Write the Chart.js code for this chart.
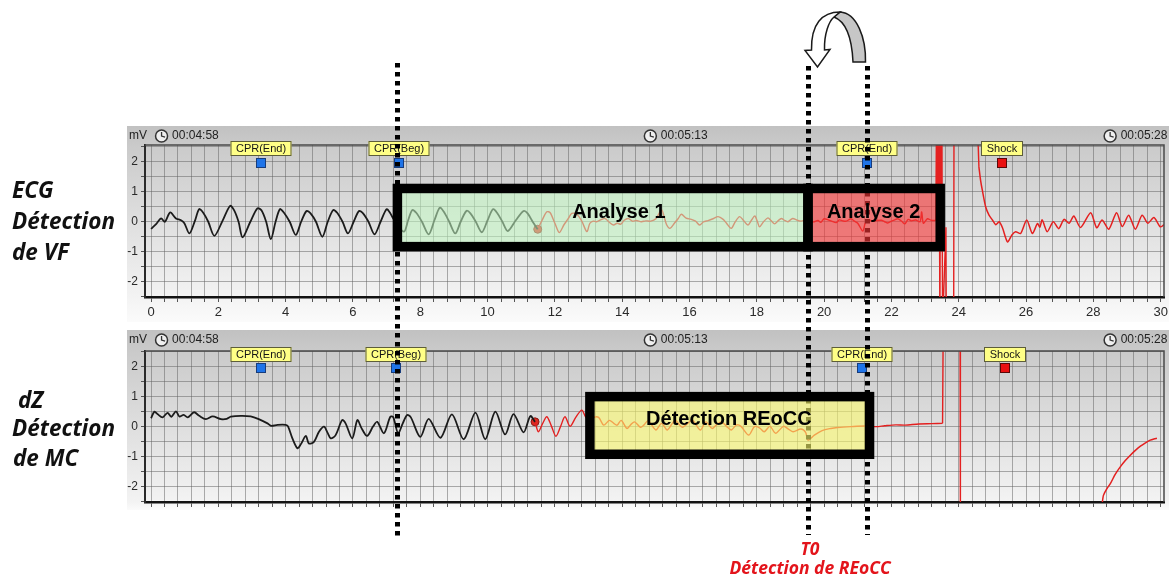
<!DOCTYPE html>
<html lang="fr">
<head>
<meta charset="utf-8">
<title>ECG / dZ – Détection REoCC</title>
<script src="https://cdn.jsdelivr.net/npm/chart.js@4.4.1/dist/chart.umd.min.js"></script>
<style>
  html, body { margin:0; padding:0; background:#fff; }
  body { width:1169px; height:577px; position:relative; overflow:hidden; }
  canvas { position:absolute; display:block; }
  #ecg { left:127px; top:126px; }
  #dz  { left:127px; top:330px; }
  #ov  { left:0; top:0; pointer-events:none; }
</style>
</head>
<body>
<canvas id="ecg" width="1042" height="196"></canvas>
<canvas id="dz" width="1042" height="180"></canvas>
<canvas id="ov" width="1169" height="577"></canvas>
<script>
// ---------------- DATA (time in s, value in mV) ----------------
const ecgBlack = [[0,-0.24],[0.15,-0.08],[0.3,0.11],[0.41,0.0],[0.57,0.31],[0.74,0.11],[0.89,0.05],[0.99,-0.05],[1.14,-0.39],[1.3,0.02],[1.43,0.42],[1.55,0.3],[1.7,0.0],[1.88,-0.47],[2.12,0.02],[2.35,0.53],[2.47,0.38],[2.6,0.0],[2.72,-0.52],[2.95,0.0],[3.16,0.45],[3.28,0.38],[3.42,0.0],[3.56,-0.58],[3.7,0.0],[3.83,0.42],[3.95,0.3],[4.12,0.0],[4.3,-0.44],[4.46,0.0],[4.62,0.36],[4.74,0.28],[4.9,0.0],[5.09,-0.5],[5.25,0.0],[5.41,0.39],[5.53,0.3],[5.69,0.0],[5.85,-0.39],[6.02,0.0],[6.18,0.36],[6.3,0.28],[6.46,0.0],[6.64,-0.42],[6.82,0.0],[7.0,0.42],[7.1,0.3],[7.2,0.1],[7.51,-0.33],[7.64,0.05],[7.76,0.39],[7.88,0.3],[8.05,0.0],[8.25,-0.42],[8.42,0.05],[8.58,0.47],[8.7,0.33],[8.86,0.0],[9.04,-0.39],[9.2,0.0],[9.37,0.36],[9.49,0.28],[9.65,0.0],[9.83,-0.35],[10.0,0.05],[10.16,0.42],[10.28,0.3],[10.44,0.0],[10.6,-0.31],[10.84,0.05],[11.07,0.36],[11.19,0.28],[11.34,0.0],[11.49,-0.25]];
const ecgRed = [[11.49,-0.25],[11.62,0.05],[11.76,0.33],[11.86,0.3],[12.0,-0.05],[12.13,-0.36],[12.27,-0.1],[12.4,0.11],[12.5,0.28],[12.65,0.25],[12.8,0.02],[12.95,-0.33],[13.04,-0.05],[13.14,0.02],[13.24,0.0],[13.36,0.06],[13.49,0.11],[13.6,0.0],[13.74,-0.11],[13.85,-0.05],[13.96,-0.08],[14.06,0.05],[14.18,0.11],[14.3,0.02],[14.42,0.04],[14.57,0.0],[14.7,0.03],[14.85,0.02],[15.0,0.1],[15.17,0.39],[15.25,0.15],[15.32,-0.1],[15.42,-0.22],[15.55,-0.05],[15.66,0.1],[15.76,0.25],[15.9,0.12],[16.05,0.08],[16.18,0.02],[16.3,-0.11],[16.42,0.0],[16.55,0.04],[16.7,0.1],[16.85,0.17],[17.0,0.08],[17.1,-0.05],[17.24,-0.22],[17.36,0.0],[17.49,0.17],[17.6,0.05],[17.74,-0.11],[17.84,0.05],[17.94,0.19],[18.02,0.0],[18.08,-0.17],[18.2,0.0],[18.33,0.13],[18.43,0.03],[18.53,-0.07],[18.63,0.03],[18.73,0.11],[18.82,0.05],[18.92,0.0],[19.0,0.06],[19.07,0.11],[19.2,0.05],[19.32,0.02],[19.45,0.05],[19.6,-0.02],[19.71,0.0],[19.82,0.04],[19.9,-0.02],[20.0,0.1],[20.12,0.06],[20.22,0.02],[20.36,-0.03],[20.45,0.06],[20.55,0.03],[20.66,0.02],[20.8,0.1],[20.9,0.02],[21.0,-0.05],[21.15,-0.31],[21.22,-0.05],[21.3,0.06],[21.45,0.02],[21.55,0.04],[21.7,0.05],[21.8,0.0],[21.89,-0.04],[22.0,0.02],[22.1,0.06],[22.19,0.1],[22.32,0.0],[22.4,-0.07],[22.5,0.08],[22.6,0.03],[22.72,0.06],[22.85,0.0],[22.9,0.33],[22.95,-0.05],[23.07,0.1],[23.18,0.05],[23.27,0.04],[23.32,0.05]];
const ecgShock = [[23.32,0.05],[23.34,3.5],[23.36,-0.3],[23.38,3.5],[23.4,-0.5],[23.42,3.5],[23.44,-3.5],[23.46,3.5],[23.48,-0.4],[23.5,3.5],[23.52,-3.5],[23.62,-0.2],[23.63,-3.5],[23.85,-3.5],[23.86,3.5],[24.55,3.5],[24.6,1.83]];
const ecgPost = [[24.6,1.83],[24.65,1.38],[24.7,1.06],[24.8,0.5],[24.9,0.22],[25.0,0.06],[25.1,-0.1],[25.2,0.0],[25.3,-0.2],[25.45,-0.67],[25.58,-0.44],[25.69,-0.33],[25.84,-0.39],[26.02,0.06],[26.19,-0.39],[26.34,-0.06],[26.41,-0.18],[26.48,0.06],[26.63,-0.33],[26.81,0.0],[26.97,-0.23],[27.13,0.08],[27.28,-0.05],[27.42,0.19],[27.62,-0.19],[27.92,0.3],[28.1,-0.2],[28.26,0.06],[28.46,-0.25],[28.69,0.3],[28.86,-0.16],[29.05,0.22],[29.25,-0.25],[29.45,0.22],[29.62,-0.05],[29.8,0.14],[29.99,-0.17],[30.1,-0.1]];
const ecgDot = [[11.49,-0.25]];

const dzBlack = [[0,0.27],[0.1,0.49],[0.2,0.4],[0.34,0.3],[0.49,0.45],[0.6,0.32],[0.74,0.5],[0.84,0.33],[0.97,0.38],[1.09,0.3],[1.28,0.47],[1.43,0.35],[1.63,0.24],[1.83,0.33],[2.08,0.24],[2.25,0.25],[2.37,0.32],[2.67,0.35],[2.96,0.33],[3.2,0.24],[3.46,0.1],[3.56,0.02],[3.76,0.05],[4.0,0.05],[4.07,0.0],[4.2,-0.4],[4.35,-0.73],[4.45,-0.6],[4.6,-0.32],[4.69,-0.57],[4.84,-0.52],[4.99,-0.18],[5.14,-0.01],[5.24,-0.2],[5.34,-0.4],[5.48,-0.3],[5.68,0.21],[5.78,0.1],[5.98,-0.4],[6.13,0.21],[6.25,-0.05],[6.42,-0.32],[6.6,0.0],[6.72,0.15],[6.92,-0.23],[7.11,0.32],[7.2,0.3],[7.34,-0.23],[7.48,0.1],[7.61,0.38],[7.72,0.3],[8.0,-0.35],[8.25,0.25],[8.6,-0.38],[8.94,0.4],[9.29,-0.43],[9.64,0.46],[9.93,-0.43],[10.23,0.49],[10.52,-0.27],[10.77,0.41],[11.07,-0.2],[11.27,0.34],[11.41,0.15]];
const dzRed = [[11.41,0.15],[11.51,-0.18],[11.63,0.08],[11.76,0.32],[11.9,0.0],[12.03,-0.33],[12.17,0.0],[12.3,0.32],[12.45,0.0],[12.62,0.3],[12.8,0.54],[12.92,0.3],[13.05,0.2],[13.15,0.3],[13.3,0.3],[13.45,0.04],[13.62,0.2],[13.75,0.1],[13.85,0.04],[13.97,0.2],[14.14,-0.07],[14.25,0.05],[14.37,0.15],[14.54,-0.03],[14.65,0.05],[14.77,0.19],[15.0,-0.12],[15.17,0.1],[15.34,-0.12],[15.57,0.21],[15.7,0.05],[15.8,-0.03],[15.95,0.1],[16.09,0.21],[16.32,-0.12],[16.49,0.15],[16.67,-0.07],[16.8,0.05],[16.95,0.15],[17.1,0.0],[17.24,-0.12],[17.4,0.05],[17.53,0.0],[17.76,-0.29],[17.93,-0.01],[18.08,-0.05],[18.22,-0.18],[18.39,0.0],[18.56,-0.23],[18.79,0.0],[18.95,-0.1],[19.08,-0.18],[19.31,-0.09],[19.45,-0.2],[19.52,-0.46],[19.71,-0.29],[19.94,-0.14],[20.2,-0.07],[20.4,-0.04],[20.8,-0.01],[21.2,0.01],[21.55,-0.01],[21.8,0.02],[22.13,0.05],[22.4,0.04],[22.82,0.08],[23.2,0.09],[23.52,0.1]];
const dzArtefact = [[23.52,0.1],[23.54,3.5],[24.04,3.5],[24.05,-3.5],[28.25,-3.5],[28.26,-2.6]];
const dzRecovery = [[28.26,-2.6],[28.3,-2.3],[28.4,-2.08],[28.51,-1.9],[28.65,-1.6],[28.8,-1.35],[28.95,-1.14],[29.1,-0.96],[29.25,-0.8],[29.4,-0.66],[29.55,-0.55],[29.69,-0.46],[29.8,-0.42],[29.89,-0.4]];
const dzDot = [[11.41,0.15]];

// event markers
const markLabels = ['CPR(End)', 'CPR(Beg)', 'CPR(End)', 'Shock'];
const markIsShock = [false, false, false, true];
const ecgMarkT = [3.27, 7.36, 21.27, 25.3];
const dzMarkT = [3.26, 7.27, 21.12, 25.39];

// header timestamps
const stampSec = [0, 15, 30];
const stampText = ['00:04:58', '00:05:13', '00:05:28'];

// analysis windows (panel 0 = ECG, 1 = dZ)
const boxLabels = ['Analyse 1', 'Analyse 2', 'Détection REoCC'];
const boxPanel = [0, 0, 1];
const boxStart = [7.32, 19.52, 13.04];
const boxEnd = [19.52, 23.45, 21.35];
const boxTop = [1.11, 1.11, 0.99];
const boxBottom = [-0.83, -0.83, -0.93];
const boxTextT = [13.9, 21.47, 17.17];
const boxTextV = [0.32, 0.32, 0.24];

// vertical guide lines (CPR begin, T0, CPR end)
const guideT = [7.32, 19.52, 21.27];

// axis ranges
const xMin = -0.18, xMax = 30.1;
const ecgYMin = -2.51, ecgYMax = 2.56;
const dzYMin = -2.52, dzYMax = 2.51;

// ---------------- STYLE / LAYOUT ----------------
Chart.defaults.font.family = '"Liberation Sans", Arial, sans-serif';
const RED = '#e42020', BLACK = '#1b1b1b';
const GRID = 'rgba(95,95,95,0.5)';
const boxFill = ['rgba(195,250,195,0.55)', 'rgba(245,55,55,0.62)', 'rgba(252,250,110,0.6)'];

const bgPlugin = {
  id: 'panelBg',
  beforeDraw(chart) {
    const { ctx, width, height, chartArea: a } = chart;
    const g = ctx.createLinearGradient(0, 0, 0, height);
    g.addColorStop(0, '#c1c1c1');
    g.addColorStop(a.top / height, '#cacaca');
    g.addColorStop(a.bottom / height, '#f3f3f3');
    g.addColorStop(1, '#fbfbfb');
    ctx.save(); ctx.fillStyle = g; ctx.fillRect(0, 0, width, height); ctx.restore();
  }
};

function drawClock(ctx, cx, cy) {
  ctx.save();
  ctx.beginPath(); ctx.arc(cx, cy, 6, 0, Math.PI * 2);
  ctx.fillStyle = '#efefef'; ctx.fill();
  ctx.lineWidth = 1.5; ctx.strokeStyle = '#333'; ctx.stroke();
  ctx.beginPath(); ctx.moveTo(cx, cy - 4); ctx.lineTo(cx, cy); ctx.lineTo(cx + 3.5, cy + 1.2);
  ctx.lineWidth = 1.3; ctx.stroke();
  ctx.restore();
}

const decoPlugin = {
  id: 'panelDeco',
  afterDraw(chart, args, opts) {
    const { ctx, chartArea: a, scales: { x } } = chart;
    ctx.save();
    // frame top / right
    ctx.strokeStyle = '#4a4a4a'; ctx.lineWidth = 1.5;
    ctx.beginPath(); ctx.moveTo(a.left, a.top); ctx.lineTo(a.right, a.top); ctx.lineTo(a.right, a.bottom); ctx.stroke();
    // header
    const hy = a.top - opts.hdrOff;
    ctx.font = '12px "Liberation Sans", Arial'; ctx.fillStyle = '#222'; ctx.textBaseline = 'middle';
    ctx.textAlign = 'right'; ctx.fillText('mV', a.left + 2, hy);
    ctx.textAlign = 'left';
    const textLeft = [x.getPixelForValue(stampSec[0]) + 21, x.getPixelForValue(stampSec[1]) + 5, x.getPixelForValue(stampSec[2]) - 40];
    stampText.forEach((s, i) => { drawClock(ctx, textLeft[i] - 10.5, hy); ctx.fillStyle = '#222'; ctx.fillText(s, textLeft[i], hy); });
    // event markers
    ctx.font = '11px "Liberation Sans", Arial';
    opts.times.forEach((t, i) => {
      const cx = Math.round(x.getPixelForValue(t));
      const lbl = markLabels[i];
      const w = Math.round(ctx.measureText(lbl).width + 11), h = 15, top = a.top - 4;
      ctx.fillStyle = '#ffff86'; ctx.fillRect(cx - w / 2, top, w, h);
      ctx.strokeStyle = '#5d5d3a'; ctx.lineWidth = 1; ctx.strokeRect(cx - w / 2 + 0.5, top + 0.5, w - 1, h - 1);
      ctx.fillStyle = '#151515'; ctx.textAlign = 'center'; ctx.fillText(lbl, cx, top + h / 2 + 0.5);
      const sy = a.top + opts.sqOff;
      ctx.fillStyle = markIsShock[i] ? '#ea1111' : '#1f74e8';
      ctx.fillRect(cx - 4, sy - 4, 8, 8);
      ctx.strokeStyle = markIsShock[i] ? '#5a0808' : '#173c7c'; ctx.lineWidth = 1;
      ctx.strokeRect(cx - 4.5, sy - 4.5, 9, 9);
    });
    ctx.restore();
  }
};

function lineDs(data, color, width, tension) {
  return { data, borderColor: color, borderWidth: width, tension, pointRadius: 0, fill: false, borderJoinStyle: 'round' };
}
function dotDs(data) {
  return { data, showLine: false, pointRadius: 4, pointBackgroundColor: '#dd2a22', pointBorderColor: '#8a1a14', pointBorderWidth: 1 };
}
const isInt = v => Math.abs(v - Math.round(v)) < 1e-6;
const isEven = v => Math.abs(v / 2 - Math.round(v / 2)) < 1e-6;

function panel(id, datasets, cfg) {
  return new Chart(document.getElementById(id), {
    type: 'line',
    data: { datasets },
    options: {
      responsive: false, animation: false, devicePixelRatio: 1, events: [],
      layout: { padding: { top: cfg.padTop, right: 2, left: 0, bottom: 0 } },
      plugins: { legend: { display: false }, tooltip: { enabled: false },
        panelDeco: { times: cfg.marks, hdrOff: cfg.hdrOff, sqOff: cfg.sqOff } },
      scales: {
        x: {
          type: 'linear', min: xMin, max: xMax,
          afterFit: s => { s.height = cfg.xH; s.paddingLeft = 0; s.paddingRight = 0; },
          ticks: { stepSize: 0.4, includeBounds: false, autoSkip: false, maxRotation: 0, minRotation: 0, padding: 3,
                   color: '#2a2a2a', font: { size: 13 },
                   callback: v => (cfg.xLabels && isEven(v)) ? String(Math.round(v)) : '' },
          grid: { color: GRID, lineWidth: 1, tickLength: 5, tickColor: '#555' },
          border: { color: '#111', width: 2.5 }
        },
        y: {
          min: cfg.yMin, max: cfg.yMax,
          afterFit: s => { s.width = 18; s.paddingTop = 0; s.paddingBottom = 0; },
          ticks: { stepSize: 0.5, includeBounds: false, autoSkip: false, padding: 3, color: '#2a2a2a', font: { size: 12 },
                   callback: v => isInt(v) ? String(Math.round(v)) : '' },
          grid: { color: GRID, lineWidth: 1, tickLength: 4, tickColor: '#555' },
          border: { color: '#2a2a2a', width: 2 }
        }
      }
    },
    plugins: [bgPlugin, decoPlugin]
  });
}

const chartE = panel('ecg', [
  lineDs(ecgBlack, BLACK, 1.8, 0.3),
  lineDs(ecgRed, RED, 1.4, 0.3),
  lineDs(ecgShock, RED, 1.4, 0),
  lineDs(ecgPost, RED, 1.5, 0.25),
  dotDs(ecgDot)
], { padTop: 19, xH: 25, yMin: ecgYMin, yMax: ecgYMax, xLabels: true, marks: ecgMarkT, hdrOff: 9, sqOff: 18 });

const chartD = panel('dz', [
  lineDs(dzBlack, BLACK, 1.8, 0.3),
  lineDs(dzRed, RED, 1.4, 0.3),
  lineDs(dzArtefact, RED, 1.4, 0),
  lineDs(dzRecovery, RED, 1.5, 0.2),
  dotDs(dzDot)
], { padTop: 21, xH: 8, yMin: dzYMin, yMax: dzYMax, xLabels: false, marks: dzMarkT, hdrOff: 11, sqOff: 17 });

// ---------------- OVERLAY (guides, windows, captions) ----------------
const OX = 127, OY = [126, 330];
const charts = [chartE, chartD];
const px = t => OX + chartE.scales.x.getPixelForValue(t);
const py = (p, v) => OY[p] + charts[p].scales.y.getPixelForValue(v);
const o = document.getElementById('ov').getContext('2d');

// dotted guides
const guideTop = [63, 66, 66], guideBottom = [538, 535, 535];
o.save();
o.strokeStyle = '#000'; o.lineWidth = 5; o.setLineDash([4.5, 4.5]);
guideT.forEach((t, i) => {
  const x = Math.round(px(t)) + 0.5;
  o.beginPath(); o.moveTo(x, guideTop[i]); o.lineTo(x, guideBottom[i]); o.stroke();
});
o.restore();

// analysis windows
const rects = boxLabels.map((_, i) => {
  const x0 = px(boxStart[i]), x1 = px(boxEnd[i]);
  const y0 = py(boxPanel[i], boxTop[i]), y1 = py(boxPanel[i], boxBottom[i]);
  return [x0, y0, x1 - x0, y1 - y0];
});
o.save();
rects.forEach((r, i) => { o.fillStyle = boxFill[i]; o.fillRect(r[0], r[1], r[2], r[3]); });
o.strokeStyle = '#000'; o.lineWidth = 9.5; o.lineJoin = 'miter';
rects.forEach(r => o.strokeRect(r[0], r[1], r[2], r[3]));
o.fillStyle = '#000'; o.font = 'bold 20px "Liberation Sans", Arial'; o.textAlign = 'center'; o.textBaseline = 'middle';
boxLabels.forEach((s, i) => o.fillText(s, px(boxTextT[i]), py(boxPanel[i], boxTextV[i])));
o.restore();

// curved arrow between T0 and CPR(End)
const xL = Math.round(px(guideT[1])), xR = Math.round(px(guideT[2]));
o.save();
o.lineWidth = 1.5; o.strokeStyle = '#1a1a1a'; o.lineJoin = 'miter';
o.beginPath();
o.moveTo(xR - 1.5, 62);
o.bezierCurveTo(xR - 1, 38, xR - 10, 13, xR - 27, 12);
o.lineTo(xR - 33, 17);
o.bezierCurveTo(xR - 20, 22, xR - 15, 40, xR - 14, 62);
o.closePath();
o.fillStyle = '#c6c6c6'; o.fill(); o.stroke();
o.beginPath();
o.moveTo(xR - 27, 12);
o.bezierCurveTo(xL + 14, 12, xL + 3, 24, xL + 3.5, 50);
o.lineTo(xL - 3, 50.5);
o.lineTo(xL + 9.5, 67);
o.lineTo(xL + 22, 49.5);
o.lineTo(xL + 16.5, 50);
o.bezierCurveTo(xL + 16, 34, xL + 21, 21, xR - 33, 17);
o.closePath();
o.fillStyle = '#ffffff'; o.fill(); o.stroke();
o.restore();

// side captions
const sideText = ['ECG', 'Détection', 'de VF', 'dZ', 'Détection', 'de MC'];
const sideX = [12, 12, 12, 18, 12, 13], sideY = [198, 229, 260, 408, 436, 466];
o.save();
o.font = 'italic 700 22.5px "Open Sans", Lato, sans-serif'; o.fillStyle = '#111'; o.textAlign = 'left'; o.textBaseline = 'alphabetic';
sideText.forEach((s, i) => o.fillText(s, sideX[i], sideY[i]));
o.fillStyle = '#e3141b'; o.font = 'italic 700 17.5px "Open Sans", Lato, sans-serif'; o.textAlign = 'center';
o.fillText('T0', xL + 2, 555);
o.fillText('Détection de REoCC', xL + 2, 574);
o.restore();
</script>
</body>
</html>
